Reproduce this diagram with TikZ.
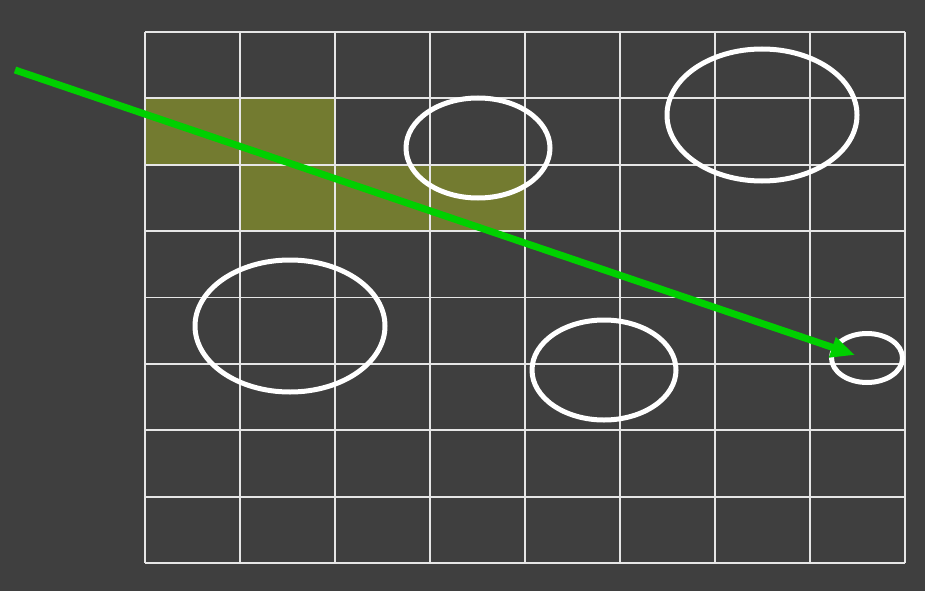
\documentclass[tikz,border=0pt]{standalone}
\usetikzlibrary{shapes.geometric,arrows.meta}
\definecolor{bg}{HTML}{3F3F3F}
\definecolor{olive}{HTML}{737B30}
\definecolor{gridc}{HTML}{E6E6E6}
\definecolor{arrowgreen}{HTML}{00D000}
\begin{document}
\begin{tikzpicture}[x=1pt,y=-1pt,
  cellfill/.style={fill=olive,draw=none},
  gridline/.style={draw=gridc,line width=1.8pt},
  ring/.style={draw=white,line width=5pt,ellipse,inner sep=0pt,fill=none},
  pointer/.style={draw=arrowgreen,line width=7pt,-{Triangle[length=24pt,width=20pt]}}]
\useasboundingbox[fill=bg] (0,0) rectangle (925,591);
% highlighted cells
\fill[olive] (145,98.4) rectangle (335,164.8);
\fill[olive] (240,164.8) rectangle (525,231.2);
% grid
\foreach \i in {0,...,8} {
  \draw[gridline] ({145+95*\i},32) -- ({145+95*\i},563);
  \draw[gridline] (145,{32+66.375*\i}) -- (905,{32+66.375*\i});
}
% ellipses
\node[ring,minimum width=144pt,minimum height=100pt] (e1) at (478,148) {};
\node[ring,minimum width=190pt,minimum height=132pt] (e2) at (762,115) {};
\node[ring,minimum width=190pt,minimum height=132pt] (e3) at (290,326) {};
\node[ring,minimum width=144pt,minimum height=100pt] (e4) at (604,370) {};
\node[ring,minimum width=71pt,minimum height=49pt] (e5) at (867,358) {};
% arrow
\coordinate (start) at (15,70);
\coordinate (tip) at (855,355);
\draw[pointer] (start) -- (tip);
\end{tikzpicture}
\end{document}
